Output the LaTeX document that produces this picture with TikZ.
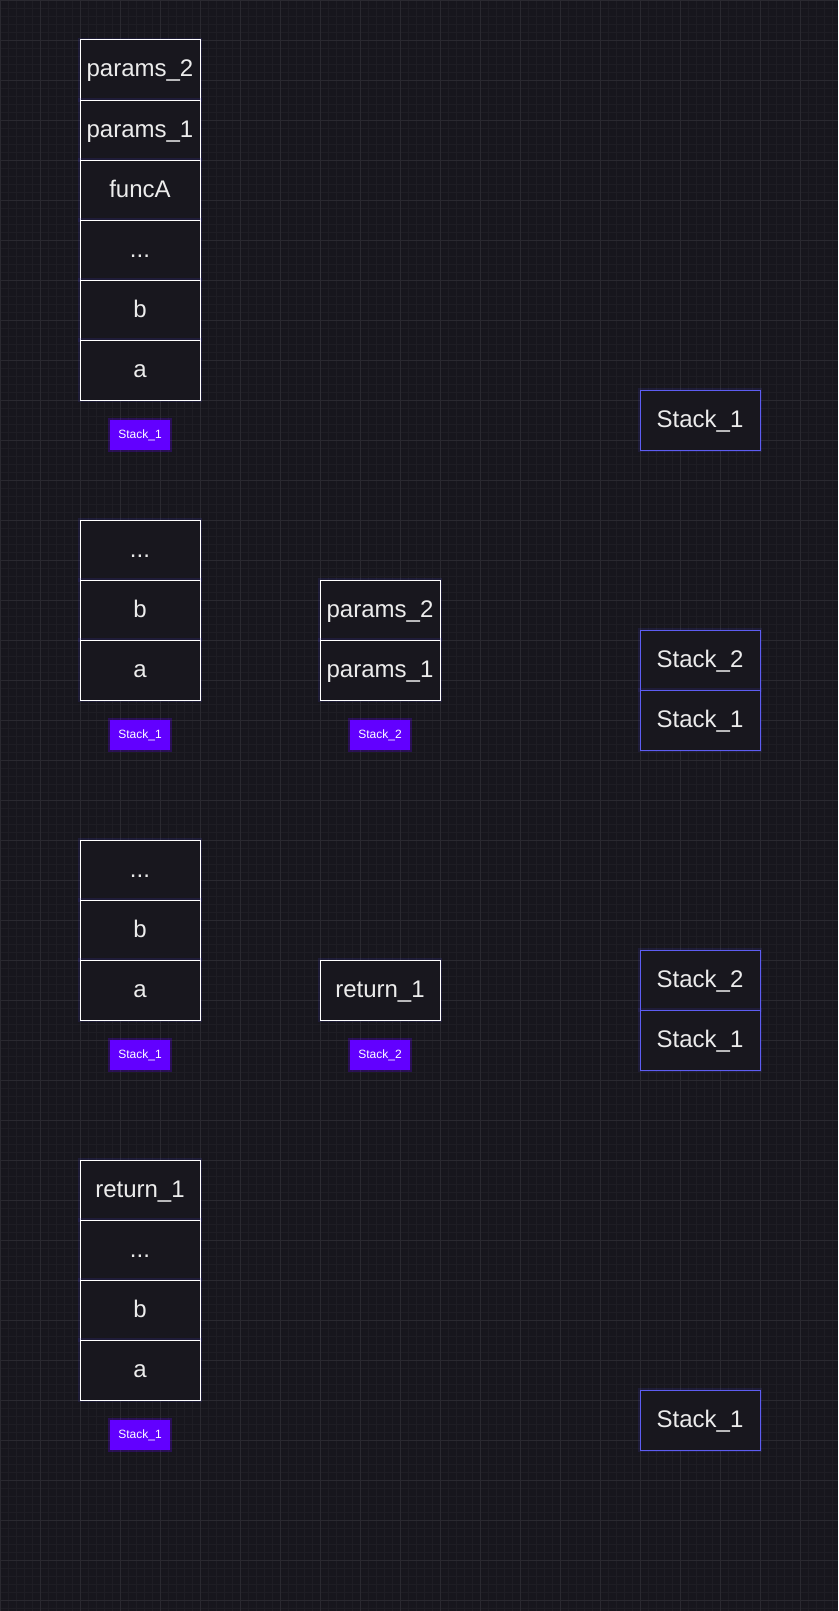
\documentclass[tikz,border=0pt]{standalone}
\usepackage{fontspec}
\setmainfont{Liberation Sans}
\definecolor{bg}{HTML}{17161D}
\definecolor{gridminor}{HTML}{1E1D24}
\definecolor{gridmajor}{HTML}{2A2930}
\definecolor{cellbg}{HTML}{18171E}
\definecolor{txt}{HTML}{ECECEC}
\definecolor{labc}{HTML}{6200FF}
\definecolor{rbord}{HTML}{5D5DF2}
\definecolor{glow}{HTML}{4B3FD0}
\tikzset{
  cell/.style={draw=white, fill=cellbg, line width=1, minimum width=120, minimum height=60,
    inner sep=0, text=txt, font=\fontsize{24}{24}\selectfont, text height=18, text depth=4,
    preaction={draw=glow, line width=4, opacity=0.15}},
  rcell/.style={cell, draw=rbord},
  lab/.style={fill=labc, minimum width=60, minimum height=30, inner sep=0, text=white,
    font=\fontsize{12}{12}\selectfont, text height=9, text depth=2.5,
    preaction={draw=labc, line width=4, opacity=0.25}},
  minorline/.style={gridminor, line width=0.6},
  majorline/.style={gridmajor, line width=0.8}
}
\begin{document}
\begin{tikzpicture}[x=1pt,y=-1pt]
\useasboundingbox (0,0) rectangle (838,1611);
\fill[bg] (0,0) rectangle (838,1611);
\foreach \i in {0,8,...,1608} \draw[minorline] (0,\i) -- (838,\i);
\foreach \i in {0,8,...,832} \draw[minorline] (\i,0) -- (\i,1611);
\foreach \i in {0,40,...,1600} \draw[majorline] (0,\i) -- (838,\i);
\foreach \i in {0,40,...,800} \draw[majorline] (\i,0) -- (\i,1611);

% group 1
\node[cell] (g1c1) at (140,70) {params\_2};
\node[cell] (g1c2) at (140,130) {params\_1};
\node[cell] (g1c3) at (140,190) {funcA};
\node[cell] (g1c4) at (140,250) {...};
\node[cell] (g1c5) at (140,310) {b};
\node[cell] (g1c6) at (140,370) {a};
\node[lab] (g1l) at (140,435) {Stack\_1};
\node[rcell] (g1r1) at (700,420) {Stack\_1};

% group 2
\node[cell] (g2c1) at (140,550) {...};
\node[cell] (g2c2) at (140,610) {b};
\node[cell] (g2c3) at (140,670) {a};
\node[lab] (g2l) at (140,735) {Stack\_1};
\node[cell] (g2p1) at (380,610) {params\_2};
\node[cell] (g2p2) at (380,670) {params\_1};
\node[lab] (g2l2) at (380,735) {Stack\_2};
\node[rcell] (g2r1) at (700,660) {Stack\_2};
\node[rcell] (g2r2) at (700,720) {Stack\_1};

% group 3
\node[cell] (g3c1) at (140,870) {...};
\node[cell] (g3c2) at (140,930) {b};
\node[cell] (g3c3) at (140,990) {a};
\node[lab] (g3l) at (140,1055) {Stack\_1};
\node[cell] (g3p1) at (380,990) {return\_1};
\node[lab] (g3l2) at (380,1055) {Stack\_2};
\node[rcell] (g3r1) at (700,980) {Stack\_2};
\node[rcell] (g3r2) at (700,1040) {Stack\_1};

% group 4
\node[cell] (g4c1) at (140,1190) {return\_1};
\node[cell] (g4c2) at (140,1250) {...};
\node[cell] (g4c3) at (140,1310) {b};
\node[cell] (g4c4) at (140,1370) {a};
\node[lab] (g4l) at (140,1435) {Stack\_1};
\node[rcell] (g4r1) at (700,1420) {Stack\_1};
\end{tikzpicture}
\end{document}
